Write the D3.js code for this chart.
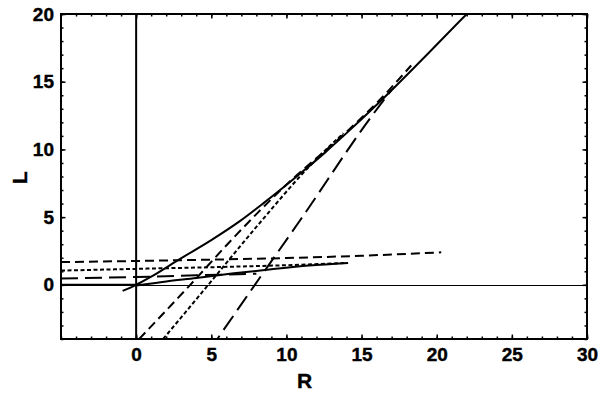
<!DOCTYPE html>
<html>
<head>
<meta charset="utf-8">
<script src="https://cdn.jsdelivr.net/npm/d3@7"></script>
<style>
  body { margin: 0; background: #fff; }
  text { font-family: "Liberation Sans", Arial, sans-serif; font-weight: bold; }
</style>
</head>
<body>
<svg id="chart" width="600" height="400"></svg>
<script>
// main convex branch (solid)
const mainR = [-0.9, 0, 1, 2.9, 5, 6.9, 8.5, 10.9, 12.6, 13.8, 16.2, 19, 22, 23];
const mainL = [-0.45, 0.0, 0.6, 1.9, 3.3, 4.7, 6.05, 8.2, 9.8, 11.0, 13.5, 16.6, 20, 21.1];

// solid family
const solidFlatR = [-5, 0];
const solidFlatL = [0, 0];
const solidSlowR = [0, 2, 4, 6.5, 9, 11.5, 14.1];
const solidSlowL = [-0.05, 0.25, 0.5, 0.85, 1.15, 1.42, 1.62];

// long dash family
const longLowR = [-5, 0, 4, 8];
const longLowL = [0.47, 0.58, 0.7, 0.82];
const longSteepR = [5.4, 7.9, 10.9, 15.7, 17];
const longSteepL = [-4, 0, 4.75, 12.5, 14.4];

// dotted family
const dotLowR = [-5, 0, 5, 10, 14.1];
const dotLowL = [1.05, 1.18, 1.3, 1.45, 1.62];
const dotSteepR = [1.8, 4.8, 8.4, 10.9, 12.6, 13.8];
const dotSteepL = [-4, 0, 4.8, 8.0, 9.95, 11.2];

// dashed family
const dashLowR = [-5, 0, 5, 10, 15, 20.3];
const dashLowL = [1.68, 1.76, 1.86, 1.98, 2.15, 2.4];
const dashSteepR = [0.2, 3.6, 6.5, 10, 14, 16.2, 18.3];
const dashSteepL = [-4, 0, 3.5, 7.4, 11.3, 13.65, 16.2];

const xTicks = [0, 5, 10, 15, 20, 25, 30];
const yTicks = [0, 5, 10, 15, 20];

const margin = { top: 14, right: 13, bottom: 61, left: 61 };
const width = 600 - margin.left - margin.right;
const height = 400 - margin.top - margin.bottom;

const x = d3.scaleLinear().domain([-5, 30]).range([0, width]);
const y = d3.scaleLinear().domain([-4, 20]).range([height, 0]);

const svg = d3.select("#chart");
const g = svg.append("g").attr("transform", `translate(${margin.left},${margin.top})`);

g.append("clipPath").attr("id", "clip")
  .append("rect").attr("width", width).attr("height", height);

const plot = g.append("g").attr("clip-path", "url(#clip)");

// zero lines
plot.append("line")
  .attr("x1", 0).attr("x2", width)
  .attr("y1", y(0) + 0.5).attr("y2", y(0) + 0.5)
  .attr("stroke", "#000").attr("stroke-width", 1)
  .attr("shape-rendering", "crispEdges");
plot.append("line")
  .attr("x1", x(0)).attr("x2", x(0))
  .attr("y1", 0).attr("y2", height)
  .attr("stroke", "#000").attr("stroke-width", 2);

const line = d3.line()
  .x(d => x(d[0]))
  .y(d => y(d[1]))
  .curve(d3.curveMonotoneX);

const zip = (a, b) => a.map((v, i) => [v, b[i]]);

const series = [
  { r: mainR, l: mainL, dash: null, offset: 0 },
  { r: solidFlatR, l: solidFlatL, dash: null, offset: 0 },
  { r: solidSlowR, l: solidSlowL, dash: null, offset: 0 },
  { r: longLowR, l: longLowL, dash: "17,7", offset: 0 },
  { r: longSteepR, l: longSteepL, dash: "17,7", offset: 13 },
  { r: dotLowR, l: dotLowL, dash: "4,2.5", offset: 0 },
  { r: dotSteepR, l: dotSteepL, dash: "4,2.5", offset: 0 },
  { r: dashLowR, l: dashLowL, dash: "9,5", offset: 0 },
  { r: dashSteepR, l: dashSteepL, dash: "9,5", offset: 0 },
];

series.forEach(s => {
  plot.append("path")
    .attr("d", line(zip(s.r, s.l)))
    .attr("fill", "none")
    .attr("stroke", "#000")
    .attr("stroke-width", 2)
    .attr("stroke-dasharray", s.dash)
    .attr("stroke-dashoffset", s.offset);
});

// ticks on all four sides, pointing in
const minorX = d3.range(-5, 31, 1);
const minorY = d3.range(-4, 21, 1);

g.append("g").attr("transform", `translate(0,${height})`)
  .call(d3.axisBottom(x).tickValues(minorX).tickSize(-2.5).tickFormat(""));
g.append("g")
  .call(d3.axisTop(x).tickValues(minorX).tickSize(-2.5).tickFormat(""));
g.append("g")
  .call(d3.axisLeft(y).tickValues(minorY).tickSize(-2.5).tickFormat(""));
g.append("g").attr("transform", `translate(${width},0)`)
  .call(d3.axisRight(y).tickValues(minorY).tickSize(-2.5).tickFormat(""));

g.append("g").attr("transform", `translate(0,${height})`)
  .call(d3.axisBottom(x).tickValues(xTicks).tickSize(-4.5).tickPadding(9));
g.append("g")
  .call(d3.axisTop(x).tickValues(xTicks).tickSize(-4.5).tickFormat(""));
g.append("g")
  .call(d3.axisLeft(y).tickValues(yTicks).tickSize(-4.5).tickPadding(7));
g.append("g").attr("transform", `translate(${width},0)`)
  .call(d3.axisRight(y).tickValues(yTicks).tickSize(-4.5).tickFormat(""));

g.selectAll(".domain").remove();
g.selectAll(".tick line").attr("stroke", "#000").attr("stroke-width", 1.5);
g.selectAll(".tick text")
  .attr("font-size", 19).attr("fill", "#000")
  .attr("stroke", "#000").attr("stroke-width", 0.4);

// frame
g.append("rect")
  .attr("width", width).attr("height", height)
  .attr("fill", "none").attr("stroke", "#000").attr("stroke-width", 2);

// axis labels
svg.append("text")
  .attr("x", margin.left + x(11.2)).attr("y", 388)
  .attr("text-anchor", "middle").attr("font-size", 21)
  .attr("stroke", "#000").attr("stroke-width", 0.4)
  .text("R");
svg.append("text")
  .attr("transform", `translate(27,${margin.top + y(7.9)}) rotate(-90)`)
  .attr("text-anchor", "middle").attr("font-size", 21)
  .attr("stroke", "#000").attr("stroke-width", 0.4)
  .text("L");
</script>
</body>
</html>
